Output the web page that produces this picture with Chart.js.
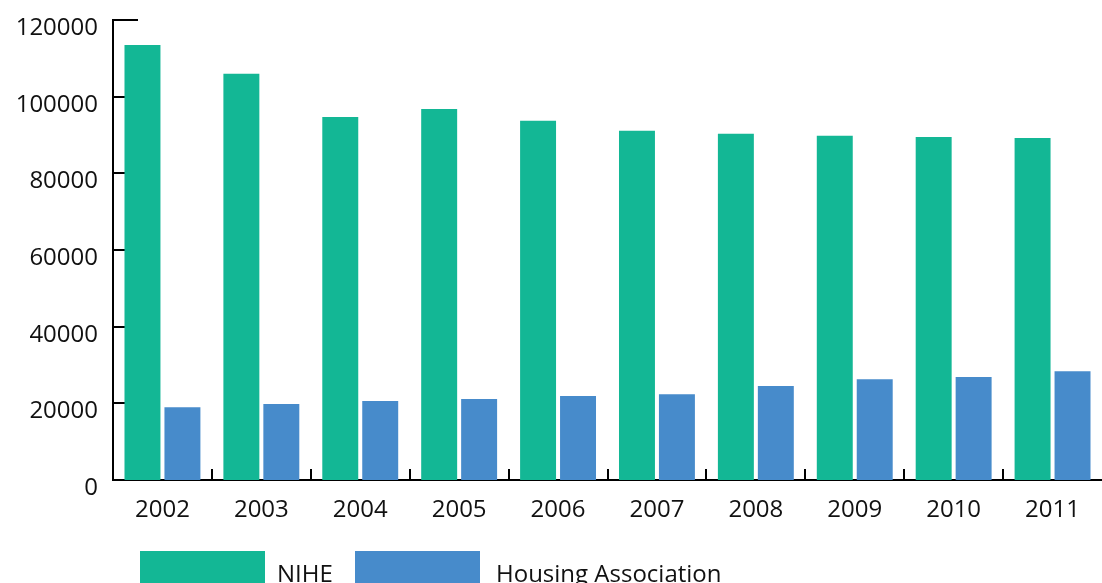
<!DOCTYPE html>
<html>
<head>
<meta charset="utf-8">
<script src="https://cdn.jsdelivr.net/npm/chart.js@4"></script>
<style>
  html, body { margin: 0; padding: 0; background: #fff; }
  #wrap { width: 1102px; height: 583px; }
</style>
</head>
<body>
<div id="wrap"><canvas id="housingChart"></canvas></div>
<script>
const years = ["2002", "2003", "2004", "2005", "2006", "2007", "2008", "2009", "2010", "2011"];
const nihe = [113500, 106000, 94700, 96800, 93700, 91100, 90300, 89800, 89500, 89200];
const housingAssoc = [19000, 19800, 20600, 21100, 21900, 22400, 24500, 26300, 26900, 28400];
const yTicks = [0, 20000, 40000, 60000, 80000, 100000, 120000];

const FONT = "'Open Sans', 'DejaVu Sans', sans-serif";

// inward tick marks on both axes (drawn under the bars)
const axisTicks = {
  id: "axisTicks",
  beforeDatasetsDraw(chart) {
    const { ctx, chartArea, scales } = chart;
    ctx.save();
    ctx.strokeStyle = "#000";
    ctx.lineWidth = 2;
    yTicks.forEach((v) => {
      if (v === 0) return;
      const y = Math.round(scales.y.getPixelForValue(v));
      ctx.beginPath();
      ctx.moveTo(chartArea.left, y);
      ctx.lineTo(chartArea.left + 25, y);
      ctx.stroke();
    });
    const half = (scales.x.getPixelForValue(1) - scales.x.getPixelForValue(0)) / 2;
    for (let i = 1; i < years.length; i++) {
      const x = Math.round(scales.x.getPixelForValue(i) - half);
      ctx.beginPath();
      ctx.moveTo(x, chartArea.bottom);
      ctx.lineTo(x, chartArea.bottom - 11);
      ctx.stroke();
    }
    ctx.restore();
  },
};

// legend along the bottom edge
const bottomLegend = {
  id: "bottomLegend",
  afterDraw(chart) {
    const { ctx } = chart;
    const items = [
      { box: 140, text: 277 },
      { box: 355, text: 496 },
    ];
    ctx.save();
    ctx.font = "24px " + FONT;
    ctx.textBaseline = "alphabetic";
    chart.data.datasets.forEach((ds, i) => {
      ctx.fillStyle = ds.backgroundColor;
      ctx.fillRect(items[i].box, 551, 125, 40);
      ctx.fillStyle = "#111";
      ctx.fillText(ds.label, items[i].text, 582);
    });
    ctx.restore();
  },
};

const ctx = document.getElementById("housingChart").getContext("2d");
const housingChart = new Chart(ctx, {
  type: "bar",
  data: {
    labels: years,
    datasets: [
      {
        label: "NIHE",
        data: nihe,
        backgroundColor: "#13B795",
        barPercentage: 0.9,
        categoryPercentage: 0.808,
      },
      {
        label: "Housing Association",
        data: housingAssoc,
        backgroundColor: "#478BCB",
        barPercentage: 0.9,
        categoryPercentage: 0.808,
      },
    ],
  },
  options: {
    responsive: true,
    maintainAspectRatio: false,
    animation: false,
    layout: { padding: { top: 20, right: 0, bottom: 0, left: 0 } },
    plugins: {
      legend: { display: false },
      tooltip: { enabled: false },
    },
    scales: {
      x: {
        grid: { display: false, drawTicks: false },
        border: { display: true, color: "#000", width: 2 },
        ticks: { color: "#111", font: { size: 24, family: FONT }, padding: 16 },
        afterFit(scale) {
          scale.height = 103;
          scale.paddingLeft = 0;
          scale.paddingRight = 0;
        },
      },
      y: {
        min: 0,
        max: 120000,
        afterBuildTicks(scale) { scale.ticks = yTicks.map((v) => ({ value: v })); },
        grid: { display: false, drawTicks: false },
        border: { display: true, color: "#000", width: 2 },
        ticks: {
          color: "#111",
          font: { size: 24, family: FONT },
          padding: 15,
          labelOffset: 8,
          callback: (v) => String(v),
        },
        afterFit(scale) {
          scale.width = 113;
          scale.paddingTop = 0;
          scale.paddingBottom = 0;
        },
      },
    },
  },
  plugins: [axisTicks, bottomLegend],
});
</script>
</body>
</html>
